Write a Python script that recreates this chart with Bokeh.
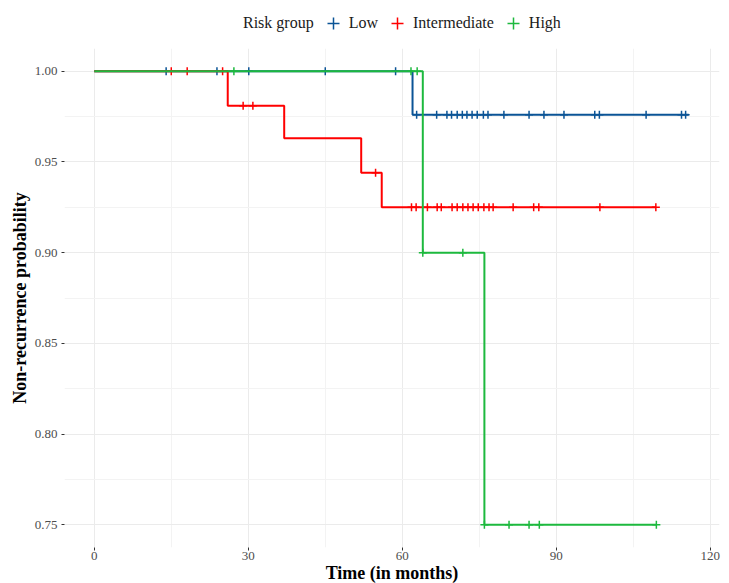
from bokeh.plotting import figure
from bokeh.layouts import column
from bokeh.models import Legend, LegendItem, Range1d, FixedTicker, NumeralTickFormatter
from bokeh.embed import file_html
from bokeh.resources import INLINE

# ---- data ----
groups = ["Low", "Intermediate", "High"]
colors = ["#0B5496", "#FF0000", "#1DB93E"]

low_times = [0, 62, 115.8]
low_surv = [1.0, 0.976, 0.976]
low_censor = [14.0, 23.9, 30.1, 45.0, 58.7,
              62.8, 66.7, 68.7, 69.6, 70.7, 71.7, 72.6, 73.6, 74.6, 75.8, 76.7,
              79.8, 84.7, 87.6, 91.5, 97.5, 98.4, 107.5, 114.4, 115.2]

int_times = [0, 26, 37, 52, 56, 109.4]
int_surv = [1.0, 0.981, 0.963, 0.944, 0.925, 0.925]
int_censor = [15.0, 18.1, 25.0, 29.0, 30.9, 54.8,
              61.8, 62.7, 64.9, 66.8, 67.6, 69.7, 70.7, 71.8, 72.8, 73.8, 74.8,
              75.9, 76.9, 77.7, 81.6, 85.6, 86.6, 98.5, 109.4]

high_times = [0, 64, 76, 109.5]
high_surv = [1.0, 0.90, 0.75, 0.75]
high_censor = [27.2, 61.7, 62.9, 64.0, 71.8, 76.0, 80.8, 84.7, 86.7, 109.5]

x_ticks = [0, 30, 60, 90, 120]
y_ticks = [0.75, 0.80, 0.85, 0.90, 0.95, 1.00]
legend_title = "Risk group"

series = [
    (low_times, low_surv, low_censor),
    (int_times, int_surv, int_censor),
    (high_times, high_surv, high_censor),
]


def surv_at(times, surv, t):
    s = surv[0]
    for ti, si in zip(times, surv):
        if ti <= t:
            s = si
    return s


FONT = "Liberation Serif"
LEG_H = 38

# ---- legend strip (separate small figure so it sits above the panel) ----
# its x range (0..1) lies left of every censoring time, so its glyphs stay hidden
pl = figure(width=721, height=LEG_H, output_backend="svg", toolbar_location=None,
            x_axis_location=None, y_axis_location=None,
            min_border_left=0, min_border_right=0, min_border_top=0, min_border_bottom=0,
            x_range=Range1d(0, 1), y_range=Range1d(0, 1))
pl.outline_line_color = None
pl.grid.visible = False
dummy = pl.scatter([], [], marker="cross", size=8, line_alpha=0, fill_alpha=0)
items = [LegendItem(label=legend_title, renderers=[dummy])]
for name, col, (t, s, c) in zip(groups, colors, series):
    cy = [surv_at(t, s, ci) for ci in c]
    r = pl.scatter(c, cy, marker="cross", size=11, line_color=col, line_width=1.5)
    items.append(LegendItem(label=name, renderers=[r]))
legend = Legend(items=items, orientation="horizontal", location=(148, 0))
legend.label_text_font = FONT
legend.label_text_font_size = "16px"
legend.label_text_color = "#1A1A1A"
legend.border_line_color = None
legend.background_fill_alpha = 0
legend.glyph_width = 30
legend.glyph_height = 30
legend.label_standoff = 1
legend.spacing = 4
legend.padding = 2
legend.margin = 0
pl.add_layout(legend)

# ---- main survival plot ----
p = figure(frame_width=655, frame_height=499, output_backend="svg", toolbar_location=None,
           min_border_left=64, min_border_right=2, min_border_top=10, min_border_bottom=30,
           x_range=Range1d(-5.8, 121.8), y_range=Range1d(0.7375, 1.0125))
p.outline_line_color = None
p.background_fill_color = "white"

for name, col, (t, s, c) in zip(groups, colors, series):
    p.step(t, s, mode="after", line_color=col, line_width=2)
    cy = [surv_at(t, s, ci) for ci in c]
    p.scatter(c, cy, marker="cross", size=8, line_color=col, line_width=1.5)

p.xaxis.ticker = FixedTicker(ticks=x_ticks, minor_ticks=[15, 45, 75, 105])
p.yaxis.ticker = FixedTicker(ticks=y_ticks, minor_ticks=[0.775, 0.825, 0.875, 0.925, 0.975])
p.yaxis.formatter = NumeralTickFormatter(format="0.00")
p.xaxis.axis_label = "Time (in months)"
p.yaxis.axis_label = "Non-recurrence probability"
for ax in [p.xaxis[0], p.yaxis[0]]:
    ax.axis_line_color = None
    ax.major_tick_line_color = "#333333"
    ax.major_tick_out = 3
    ax.major_tick_in = 0
    ax.minor_tick_line_color = None
    ax.major_label_text_font = FONT
    ax.major_label_text_font_size = "13px"
    ax.major_label_text_color = "#4D4D4D"
    ax.axis_label_text_font = FONT
    ax.axis_label_text_font_size = "18px"
    ax.axis_label_text_font_style = "bold"
    ax.axis_label_text_color = "black"
    ax.major_label_standoff = 3
    ax.axis_label_standoff = 2
p.xaxis.axis_label_standoff = 0
p.xaxis.major_label_standoff = 0

p.xgrid.grid_line_color = "#EBEBEB"
p.ygrid.grid_line_color = "#EBEBEB"
p.xgrid.minor_grid_line_color = "#F3F3F3"
p.ygrid.minor_grid_line_color = "#F3F3F3"

layout = column(pl, p, spacing=0)
open("out.html", "w").write(file_html(layout, INLINE))
